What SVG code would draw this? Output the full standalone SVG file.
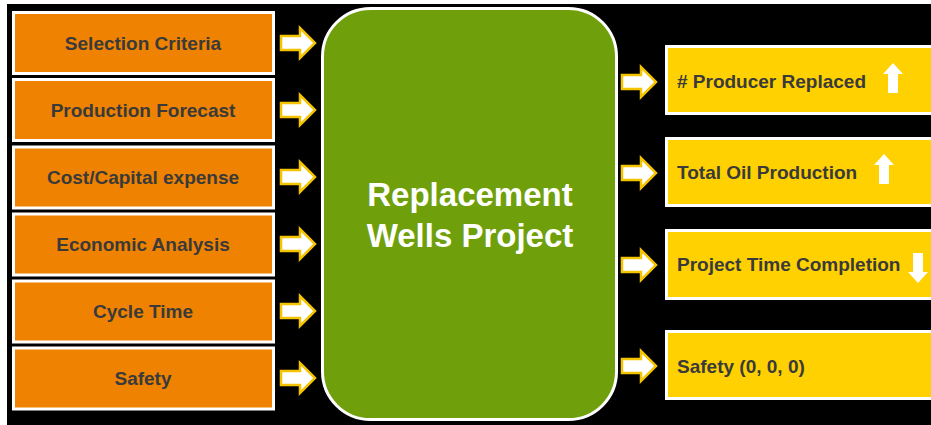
<svg xmlns="http://www.w3.org/2000/svg" width="931" height="425" viewBox="0 0 931 425">
  <defs>
    <style>
      .in rect { fill: #ef8200; stroke: #ffffff; stroke-width: 3; }
      .out rect { fill: #ffd100; stroke: #ffffff; stroke-width: 3; }
      .lbl { font-family: "Liberation Sans", Arial, sans-serif; font-weight: bold; font-size: 19px; fill: #3a3a3a; }
      .c { text-anchor: middle; }
      .flow { fill: #ffffff; stroke: #f5c400; stroke-width: 2.5; stroke-linejoin: miter; }
      .ind { fill: #ffffff; }
    </style>
    <!-- block arrow pointing right, origin at its tail centre -->
    <path id="blockArrow" d="M0,-7 H19 V-15 L34,0 L19,15 V7 H0 Z"/>
    <!-- small up arrow, origin at its top centre -->
    <path id="upArrow" d="M0,0 L10,11 H5 V30 H-5 V11 H-10 Z"/>
  </defs>

  <rect x="7" y="4" width="924" height="421" fill="#000000"/>

  <!-- inputs -->
  <g id="in-selection" class="in"><rect x="13.5" y="12.5" width="260" height="61"/><text class="lbl c" x="143" y="50">Selection Criteria</text></g>
  <g id="in-forecast" class="in"><rect x="13.5" y="79.5" width="260" height="61"/><text class="lbl c" x="143" y="117">Production Forecast</text></g>
  <g id="in-cost" class="in"><rect x="13.5" y="147" width="260" height="61"/><text class="lbl c" x="143" y="184">Cost/Capital expense</text></g>
  <g id="in-economic" class="in"><rect x="13.5" y="214" width="260" height="61"/><text class="lbl c" x="143" y="251">Economic Analysis</text></g>
  <g id="in-cycle" class="in"><rect x="13.5" y="281" width="260" height="61"/><text class="lbl c" x="143" y="318">Cycle Time</text></g>
  <g id="in-safety" class="in"><rect x="13.5" y="348" width="260" height="61"/><text class="lbl c" x="143" y="385">Safety</text></g>

  <!-- central project -->
  <g id="project">
    <rect x="322.5" y="8.5" width="294" height="411" rx="48" ry="48" fill="#6fa00c" stroke="#ffffff" stroke-width="3"/>
    <text x="470" y="206" font-family="Liberation Sans, Arial, sans-serif" font-weight="bold" font-size="33" fill="#ffffff" text-anchor="middle">Replacement</text>
    <text x="470" y="247" font-family="Liberation Sans, Arial, sans-serif" font-weight="bold" font-size="33" fill="#ffffff" text-anchor="middle">Wells Project</text>
  </g>

  <!-- outputs -->
  <g id="out-producers" class="out"><rect x="666.5" y="46.5" width="270" height="67"/><text class="lbl" x="677" y="88"># Producer Replaced</text><use href="#upArrow" class="ind" x="893" y="63"/></g>
  <g id="out-oil" class="out"><rect x="666.5" y="138.5" width="270" height="67"/><text class="lbl" x="677" y="179">Total Oil Production</text><use href="#upArrow" class="ind" x="884" y="154"/></g>
  <g id="out-time" class="out"><rect x="666.5" y="230.5" width="270" height="68"/><text class="lbl" x="677" y="271">Project Time Completion</text><use href="#upArrow" class="ind" transform="translate(918,283) scale(1,-1)"/></g>
  <g id="out-safety" class="out"><rect x="666.5" y="331.5" width="270" height="67"/><text class="lbl" x="677" y="373">Safety (0, 0, 0)</text></g>

  <!-- connectors -->
  <g id="connectors">
    <use href="#blockArrow" class="flow" x="281" y="43"/>
    <use href="#blockArrow" class="flow" x="281" y="110"/>
    <use href="#blockArrow" class="flow" x="281" y="177"/>
    <use href="#blockArrow" class="flow" x="281" y="244"/>
    <use href="#blockArrow" class="flow" x="281" y="311"/>
    <use href="#blockArrow" class="flow" x="281" y="378"/>
    <use href="#blockArrow" class="flow" x="622" y="82"/>
    <use href="#blockArrow" class="flow" x="622" y="173"/>
    <use href="#blockArrow" class="flow" x="622" y="265"/>
    <use href="#blockArrow" class="flow" x="622" y="366"/>
  </g>
</svg>
